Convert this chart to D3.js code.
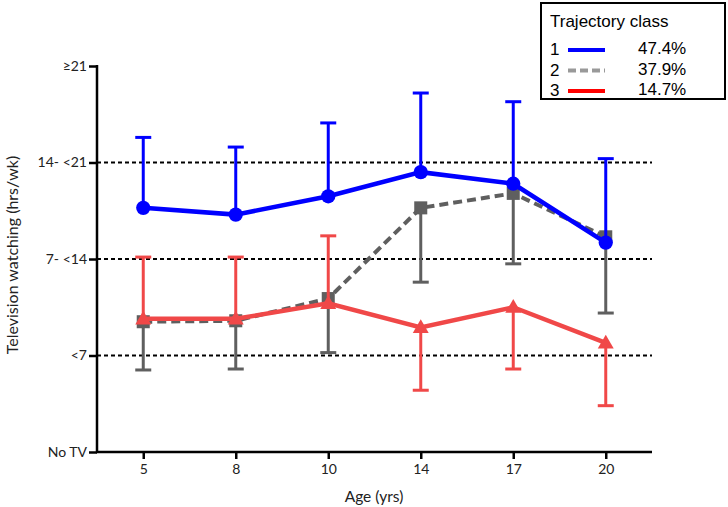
<!DOCTYPE html>
<html><head><meta charset="utf-8">
<script src="https://cdn.jsdelivr.net/npm/d3@7"></script>
<style>
html,body{margin:0;padding:0;background:#fff;}
svg{display:block;}
</style></head>
<body>
<svg id="chart" width="728" height="507"></svg>
<script>
const ages = ["5","8","10","14","17","20"];
const yLabels = ["No TV","<7","7- <14","14- <21","≥21"];
const class1 = [2.53, 2.46, 2.65, 2.90, 2.78, 2.17];
const class1ErrEnd = [3.26, 3.16, 3.41, 3.72, 3.63, 3.04];
const class2 = [1.35, 1.36, 1.59, 2.53, 2.68, 2.23];
const class2ErrEnd = [0.85, 0.86, 1.03, 1.76, 1.95, 1.44];
const class3 = [1.38, 1.38, 1.54, 1.29, 1.50, 1.13];
const class3ErrEnd = [2.02, 2.02, 2.24, 0.64, 0.86, 0.48];
const legendClasses = ["1","2","3"];
const legendPercents = ["47.4%","37.9%","14.7%"];

const svg = d3.select("#chart");
const x = d3.scalePoint().domain(ages).range([97, 652]).padding(0.5);
const y = d3.scaleLinear().domain([0, 4]).range([452, 66]);
const tickFont = "Lato, 'Open Sans', sans-serif";

// dotted reference lines
svg.append("g").selectAll("line").data([1,2,3]).join("line")
  .attr("x1", 97).attr("x2", 652)
  .attr("y1", d => y(d)).attr("y2", d => y(d))
  .attr("stroke", "#000").attr("stroke-width", 2).attr("stroke-dasharray", "4,3");

// axes
const yAxis = svg.append("g").attr("transform", "translate(97,0)")
  .call(d3.axisLeft(y).tickValues([0,1,2,3,4]).tickFormat(d => yLabels[d]).tickSize(8).tickSizeOuter(0).tickPadding(2));
const xAxis = svg.append("g").attr("transform", "translate(0,452)")
  .call(d3.axisBottom(x).tickSize(7).tickSizeOuter(0).tickPadding(5));
[yAxis, xAxis].forEach(g => {
  g.select(".domain").attr("stroke", "#000").attr("stroke-width", 2.5);
  g.selectAll(".tick line").attr("stroke", "#000").attr("stroke-width", 2.5);
  g.selectAll(".tick text").attr("fill", "#222").style("font-family", tickFont).style("font-size", "14px");
});
xAxis.select(".domain").attr("d", "M96,0H652");
yAxis.select(".domain").attr("d", "M0,65V453");

// axis titles
svg.append("text").attr("x", 374).attr("y", 502).attr("text-anchor", "middle")
  .style("font-family", tickFont).style("font-size", "15.5px").attr("fill", "#222").text("Age (yrs)");
svg.append("text").attr("transform", "translate(18,255) rotate(-90)").attr("text-anchor", "middle")
  .style("font-family", tickFont).style("font-size", "16px").attr("fill", "#222").text("Television watching (hrs/wk)");

function drawSeries(vals, errEnd, color, dashed, marker) {
  const g = svg.append("g");
  g.selectAll("line.err").data(ages).join("line").attr("class","err")
    .attr("x1", d => x(d)).attr("x2", d => x(d))
    .attr("y1", (d,i) => y(vals[i])).attr("y2", (d,i) => y(errEnd[i]))
    .attr("stroke", color).attr("stroke-width", 3);
  g.selectAll("line.cap").data(ages).join("line").attr("class","cap")
    .attr("x1", d => x(d) - 8).attr("x2", d => x(d) + 8)
    .attr("y1", (d,i) => y(errEnd[i])).attr("y2", (d,i) => y(errEnd[i]))
    .attr("stroke", color).attr("stroke-width", 3);
  const line = d3.line().x((d,i) => x(ages[i])).y(d => y(d));
  g.append("path").datum(vals).attr("d", line).attr("fill", "none")
    .attr("stroke", color).attr("stroke-width", dashed ? 4 : 4.5)
    .attr("stroke-dasharray", dashed ? "9,5" : null);
  const sym = d3.symbol().type(marker.type).size(marker.size);
  g.selectAll("path.m").data(vals).join("path").attr("class","m")
    .attr("d", sym)
    .attr("transform", (d,i) => `translate(${x(ages[i])},${y(d) + (marker.dy||0)})`)
    .attr("fill", color);
}

drawSeries(class2, class2ErrEnd, "#5f5f5f", true, {type: d3.symbolSquare, size: 170});
drawSeries(class3, class3ErrEnd, "#f04848", false, {type: d3.symbolTriangle, size: 110, dy: 1});
drawSeries(class1, class1ErrEnd, "#0000ff", false, {type: d3.symbolCircle, size: 160});

// legend
const lg = svg.append("g");
lg.append("rect").attr("x", 541).attr("y", 3).attr("width", 184).attr("height", 96)
  .attr("fill", "#fff").attr("stroke", "#000").attr("stroke-width", 2);
const legFont = "'Liberation Sans', Arial, sans-serif";
lg.append("text").attr("x", 550).attr("y", 27).style("font-family", legFont).style("font-size", "17px").text("Trajectory class");
const legColors = ["#0000ff", "#999999", "#ff0000"];
const legDash = [null, "8,4", null];
legendClasses.forEach((c, i) => {
  const by = 55 + i * 20.5;
  lg.append("text").attr("x", 550).attr("y", by).style("font-family", legFont).style("font-size", "17px").text(c);
  lg.append("line").attr("x1", 568).attr("x2", 605).attr("y1", by - 5).attr("y2", by - 5)
    .attr("stroke", legColors[i]).attr("stroke-width", 4).attr("stroke-dasharray", legDash[i]);
  lg.append("text").attr("x", 638).attr("y", by - 1).style("font-family", legFont).style("font-size", "17px").text(legendPercents[i]);
});
</script>
</body></html>
